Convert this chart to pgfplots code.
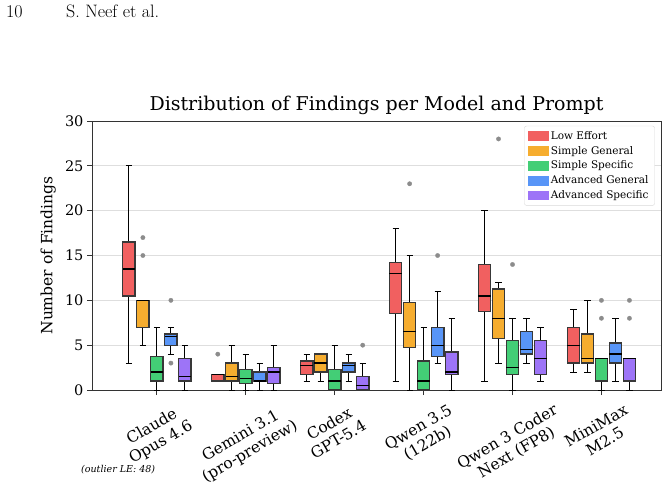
\documentclass[border=0pt]{standalone}
\usepackage{pgfplots}
\pgfplotsset{compat=1.18}
\usepgfplotslibrary{statistics}
\usepackage{fontspec}
\newfontfamily\dv{DejaVu Serif}
\definecolor{cLE}{RGB}{241,96,96}
\definecolor{cSG}{RGB}{246,173,47}
\definecolor{cSS}{RGB}{67,206,118}
\definecolor{cAG}{RGB}{88,149,247}
\definecolor{cAS}{RGB}{157,116,247}
\definecolor{cOut}{RGB}{140,140,140}
\newcommand{\rl}[2]{\rotatebox{30}{\begin{tabular}{@{}c@{}}#1\\#2\end{tabular}}}
\pgfplotsset{
  bxp/.style={draw=black!78, line width=1.3pt, solid,
    mark=*, mark size=2.2pt, mark options={solid, fill=cOut, draw=cOut, line width=0.3pt},
    boxplot/draw direction=y,
    boxplot/box extend=0.14, boxplot/whisker extend=0.07,
    boxplot/every whisker/.style={draw=black, line width=0.9pt},
    boxplot/every median/.style={draw=black, line width=1.3pt}},
  LE/.style={bxp, fill=cLE},
  SG/.style={bxp, fill=cSG},
  SS/.style={bxp, fill=cSS},
  AG/.style={bxp, fill=cAG},
  AS/.style={bxp, fill=cAS},
}
\begin{document}
\begin{tikzpicture}
\useasboundingbox (0,0) rectangle (668pt,488pt);
\node[anchor=base west, font=\fontsize{18}{21}\selectfont, inner sep=0pt] at (6pt,470pt) {10};
\node[anchor=base west, font=\fontsize{18}{21}\selectfont, inner sep=0pt] at (66pt,470pt) {S. Neef et al.};
\node[anchor=west, font=\dv\itshape\fontsize{9.5}{11}\selectfont, inner sep=0pt] at (81pt,18pt) {(outlier LE: 48)};
\begin{axis}[
  at={(92pt,98pt)}, anchor=south west,
  width=569pt, height=269pt, scale only axis,
  boxplot/draw direction=y,
  xmin=-0.73, xmax=5.67, ymin=0, ymax=30,
  xtick={0,1,2,3,4,5},
  xticklabels={\rl{Claude}{Opus 4.6}, \rl{Gemini 3.1}{(pro-preview)}, \rl{Codex}{GPT-5.4}, \rl{Qwen 3.5}{(122b)}, \rl{Qwen 3 Coder}{Next (FP8)}, \rl{MiniMax}{M2.5}},
  ytick={0,5,10,15,20,25,30},
  xtick pos=lower, ytick pos=left,
  tick align=outside, major tick length=5pt,
  tick style={black!80, line width=0.9pt},
  axis line style={black!80, line width=0.9pt},
  ymajorgrids, grid style={black!13, line width=0.9pt},
  /pgf/number format/assume math mode=true,
  yticklabel style={font=\dv\fontsize{14.5}{17}\selectfont},
  xticklabel style={font=\dv\fontsize{15.5}{18}\selectfont, anchor=north, inner sep=0pt, yshift=-7pt},
  title={Distribution of Findings per Model and Prompt},
  title style={font=\dv\fontsize{19}{22}\selectfont, at={(0.5,1)}, anchor=base, yshift=5pt},
  ylabel={Number of Findings},
  ylabel style={font=\dv\fontsize{15.5}{18}\selectfont, at={(axis description cs:-0.077,0.5)}, anchor=center},
  legend style={font=\dv\fontsize{10.5}{12.5}\selectfont, draw=black!15, rounded corners=2pt,
    at={(rel axis cs:0.989,0.982)}, anchor=north east, inner xsep=4pt, inner ysep=3pt, row sep=1.5pt},
  legend cell align=left,
]
\addlegendimage{legend image code/.code={\fill[cLE, sharp corners] (0pt,-4pt) rectangle (20pt,4.5pt);}}
\addlegendentry{Low Effort}
\addlegendimage{legend image code/.code={\fill[cSG, sharp corners] (0pt,-4pt) rectangle (20pt,4.5pt);}}
\addlegendentry{Simple General}
\addlegendimage{legend image code/.code={\fill[cSS, sharp corners] (0pt,-4pt) rectangle (20pt,4.5pt);}}
\addlegendentry{Simple Specific}
\addlegendimage{legend image code/.code={\fill[cAG, sharp corners] (0pt,-4pt) rectangle (20pt,4.5pt);}}
\addlegendentry{Advanced General}
\addlegendimage{legend image code/.code={\fill[cAS, sharp corners] (0pt,-4pt) rectangle (20pt,4.5pt);}}
\addlegendentry{Advanced Specific}
% Claude Opus 4.6
\addplot[LE, boxplot prepared={draw position=-0.315, lower whisker=3, lower quartile=10.5, median=13.5, upper quartile=16.5, upper whisker=25}] coordinates {};
\addplot[SG, boxplot prepared={draw position=-0.1575, lower whisker=5, lower quartile=7, median=10, upper quartile=10, upper whisker=10}] table[row sep=\\, y index=0] {data\\ 17\\ 15\\};
\addplot[SS, boxplot prepared={draw position=0, lower whisker=0, lower quartile=1, median=2, upper quartile=3.75, upper whisker=7}] coordinates {};
\addplot[AG, boxplot prepared={draw position=0.1575, lower whisker=4, lower quartile=5, median=6, upper quartile=6.25, upper whisker=7}] table[row sep=\\, y index=0] {data\\ 10\\ 3\\};
\addplot[AS, boxplot prepared={draw position=0.315, lower whisker=0, lower quartile=1, median=1.5, upper quartile=3.5, upper whisker=5}] coordinates {};
% Gemini 3.1
\addplot[LE, boxplot prepared={draw position=0.685, lower whisker=1, lower quartile=1, median=1.75, upper quartile=1.75, upper whisker=1.75}] table[row sep=\\, y index=0] {data\\ 4\\};
\addplot[SG, boxplot prepared={draw position=0.8425, lower whisker=0, lower quartile=1, median=1.5, upper quartile=3, upper whisker=5}] coordinates {};
\addplot[SS, boxplot prepared={draw position=1, lower whisker=0, lower quartile=0.75, median=1.25, upper quartile=2.25, upper whisker=4}] coordinates {};
\addplot[AG, boxplot prepared={draw position=1.1575, lower whisker=0, lower quartile=1, median=1, upper quartile=2, upper whisker=3}] coordinates {};
\addplot[AS, boxplot prepared={draw position=1.315, lower whisker=0, lower quartile=0.75, median=2, upper quartile=2.5, upper whisker=5}] coordinates {};
% Codex GPT-5.4
\addplot[LE, boxplot prepared={draw position=1.685, lower whisker=1, lower quartile=1.75, median=2.75, upper quartile=3.25, upper whisker=4}] coordinates {};
\addplot[SG, boxplot prepared={draw position=1.8425, lower whisker=1, lower quartile=2, median=3, upper quartile=4, upper whisker=4}] coordinates {};
\addplot[SS, boxplot prepared={draw position=2, lower whisker=0, lower quartile=0, median=1, upper quartile=2.25, upper whisker=5}] coordinates {};
\addplot[AG, boxplot prepared={draw position=2.1575, lower whisker=1, lower quartile=2, median=2.75, upper quartile=3, upper whisker=4}] coordinates {};
\addplot[AS, boxplot prepared={draw position=2.315, lower whisker=0, lower quartile=0, median=0.5, upper quartile=1.5, upper whisker=3}] table[row sep=\\, y index=0] {data\\ 5\\};
% Qwen 3.5
\addplot[LE, boxplot prepared={draw position=2.685, lower whisker=1, lower quartile=8.5, median=13, upper quartile=14.25, upper whisker=18}] coordinates {};
\addplot[SG, boxplot prepared={draw position=2.8425, lower whisker=0, lower quartile=4.75, median=6.5, upper quartile=9.75, upper whisker=15}] table[row sep=\\, y index=0] {data\\ 23\\};
\addplot[SS, boxplot prepared={draw position=3, lower whisker=0, lower quartile=0, median=1, upper quartile=3.25, upper whisker=7}] coordinates {};
\addplot[AG, boxplot prepared={draw position=3.1575, lower whisker=3, lower quartile=3.75, median=5, upper quartile=7, upper whisker=11}] table[row sep=\\, y index=0] {data\\ 15\\};
\addplot[AS, boxplot prepared={draw position=3.315, lower whisker=0, lower quartile=1.75, median=2, upper quartile=4.25, upper whisker=8}] coordinates {};
% Qwen 3 Coder Next
\addplot[LE, boxplot prepared={draw position=3.685, lower whisker=1, lower quartile=8.75, median=10.5, upper quartile=14, upper whisker=20}] coordinates {};
\addplot[SG, boxplot prepared={draw position=3.8425, lower whisker=3, lower quartile=5.75, median=8, upper quartile=11.25, upper whisker=12}] table[row sep=\\, y index=0] {data\\ 28\\};
\addplot[SS, boxplot prepared={draw position=4, lower whisker=0, lower quartile=1.75, median=2.5, upper quartile=5.5, upper whisker=8}] table[row sep=\\, y index=0] {data\\ 14\\};
\addplot[AG, boxplot prepared={draw position=4.1575, lower whisker=3, lower quartile=4, median=4.5, upper quartile=6.5, upper whisker=8}] coordinates {};
\addplot[AS, boxplot prepared={draw position=4.315, lower whisker=1, lower quartile=1.75, median=3.5, upper quartile=5.5, upper whisker=7}] coordinates {};
% MiniMax M2.5
\addplot[LE, boxplot prepared={draw position=4.685, lower whisker=2, lower quartile=3, median=5, upper quartile=7, upper whisker=9}] coordinates {};
\addplot[SG, boxplot prepared={draw position=4.8425, lower whisker=2, lower quartile=3, median=3.5, upper quartile=6.25, upper whisker=10}] coordinates {};
\addplot[SS, boxplot prepared={draw position=5, lower whisker=0, lower quartile=1, median=3.5, upper quartile=3.5, upper whisker=3.5}] table[row sep=\\, y index=0] {data\\ 10\\ 8\\};
\addplot[AG, boxplot prepared={draw position=5.1575, lower whisker=1, lower quartile=3, median=4, upper quartile=5.25, upper whisker=8}] coordinates {};
\addplot[AS, boxplot prepared={draw position=5.315, lower whisker=0, lower quartile=1, median=3.5, upper quartile=3.5, upper whisker=3.5}] table[row sep=\\, y index=0] {data\\ 10\\ 8\\};
\end{axis}
\end{tikzpicture}
\end{document}
